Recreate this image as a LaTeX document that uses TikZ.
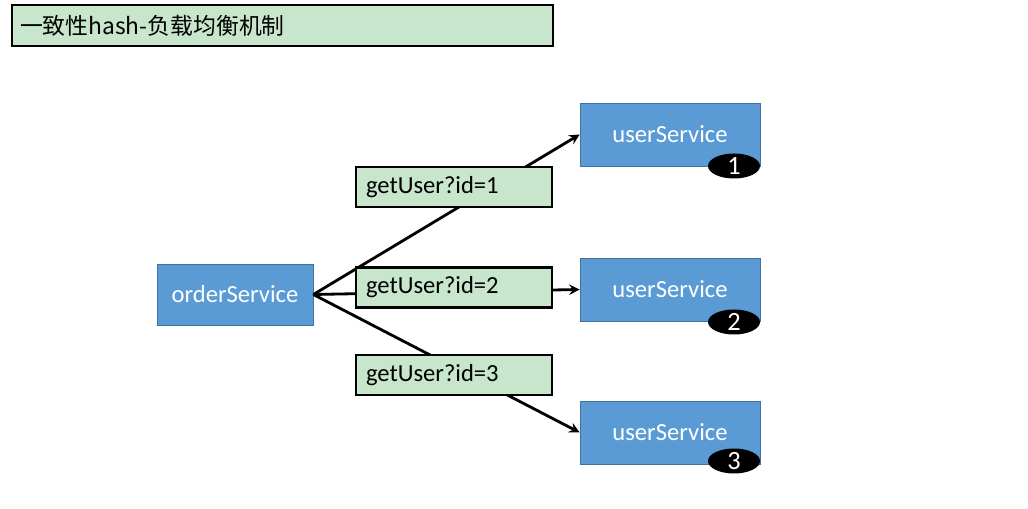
\documentclass[tikz,border=0pt]{standalone}
\usepackage{fontspec}
\setmainfont{Carlito}
\newfontfamily\cjk{Noto Sans CJK SC}
\usetikzlibrary{arrows,shapes.geometric,positioning}
\definecolor{svcblue}{RGB}{91,155,213}
\definecolor{svcedge}{RGB}{65,113,156}
\definecolor{reqgreen}{RGB}{200,230,204}

\begin{document}
\begin{tikzpicture}[
    x=0.02cm, y=-0.02cm,
    svc/.style={rectangle, draw=svcedge, fill=svcblue, text=white, minimum width=3.6cm, minimum height=1.26cm, font=\fontsize{14}{16}\selectfont},
    req/.style={rectangle, draw=black, line width=1.4pt, fill=reqgreen, inner xsep=0.2cm, text width=3.52cm, align=left, minimum height=0.8cm, font=\fontsize{14}{16}\selectfont},
    badge/.style={ellipse, fill=black, text=white, inner sep=0pt, minimum width=1.04cm, minimum height=0.5cm, font=\fontsize{15}{17}\selectfont},
    >=stealth
]
\useasboundingbox (0,0) rectangle (1028,509);

% --- Title ---
\node[rectangle, draw=black, line width=1.6pt, fill=reqgreen, minimum width=10.82cm, minimum height=0.82cm, text width=10.5cm, align=left, font=\cjk\fontsize{13}{15}\selectfont] (title) at (282.5,25.5) {一致性hash-负载均衡机制};

% --- Services ---
\node[svc, minimum width=3.12cm, minimum height=1.22cm] (order) at (235,294.5) {orderService};
\node[svc] (us1) at (670,134.5) {userService};
\node[svc] (us2) at (670,289.5) {userService};
\node[svc] (us3) at (670,432.5) {userService};

\node[badge] (n1) at (734,166) {1};
\node[badge] (n2) at (734,322) {2};
\node[badge] (n3) at (734,461) {3};

% Arrows
\draw[->, line width=1.6pt] (order.east) -- (us1.west);
\draw[->, line width=1.6pt] (order.east) -- (us2.west);
\draw[->, line width=1.6pt] (order.east) -- (us3.west);

% Request labels (on top of the arrows)
\node[req] (r1) at (454,187) {getUser?id=1};
\node[req] (r2) at (454,287.5) {getUser?id=2};
\node[req] (r3) at (454,375) {getUser?id=3};

\end{tikzpicture}
\end{document}
